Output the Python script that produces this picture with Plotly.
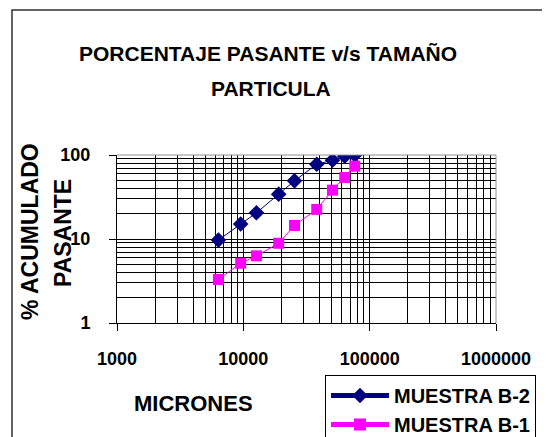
import plotly.graph_objects as go

# ---- data ----
micrones = [6350, 9525, 12700, 19050, 25400, 38100, 50800, 63500, 76200]
muestra_b2 = [9.7, 15.1, 20.5, 34.2, 49.2, 77.6, 86.5, 96.5, 100]
muestra_b1 = [3.3, 5.15, 6.3, 8.9, 14.5, 22.5, 38.1, 53.9, 73.5]
x_major = [1000, 10000, 100000, 1000000]
x_major_text = ["1000", "10000", "100000", "1000000"]
y_major = [1, 10, 100]
y_major_text = ["1", "10", "100"]
x_minor = [m * d for d in [1000, 10000, 100000] for m in range(2, 10)]
y_minor = [m * d for d in [1, 10] for m in range(2, 10)]

# page body has an 8px margin, so the figure is drawn 8px smaller and
# all reference (window) pixel positions are shifted by that offset
OFF = 8
W, H = 550 - OFF, 437 - OFF
L, R, T, B = 117 - OFF, 54, 155 - OFF, 114
PW, PH = W - L - R, H - T - B


def px(x):
    return (x - OFF - L) / PW


def py(y):
    return (H - B - (y - OFF)) / PH


FONT = "Liberation Sans, Arial, sans-serif"

fig = go.Figure()
fig.add_trace(go.Scatter(
    x=micrones, y=muestra_b2, name="MUESTRA B-2", mode="lines+markers",
    line=dict(color="#000080", width=1),
    marker=dict(symbol="diamond", size=12, color="#000080"),
))
fig.add_trace(go.Scatter(
    x=micrones, y=muestra_b1, name="MUESTRA B-1", mode="lines+markers",
    line=dict(color="#FF00FF", width=1),
    marker=dict(symbol="square", size=11, color="#FF00FF"),
))

axis_common = dict(
    showgrid=True, gridcolor="black", gridwidth=1,
    showline=True, linecolor="black", linewidth=1,
    ticks="outside", tickcolor="black", ticklen=7,
    zeroline=False,
    tickfont=dict(family=FONT, size=18, color="black", weight="bold"),
)

fig.update_xaxes(
    type="log", range=[3, 6], tickmode="array",
    tickvals=x_major, ticktext=x_major_text,
    minor=dict(tickmode="array", tickvals=x_minor, showgrid=True,
               gridcolor="black", gridwidth=1, ticks=""),
    ticklabelstandoff=12,
    **axis_common,
)
fig.update_yaxes(
    type="log", range=[0, 2], tickmode="array",
    tickvals=y_major, ticktext=y_major_text,
    minor=dict(tickmode="array", tickvals=y_minor, showgrid=True,
               gridcolor="black", gridwidth=1, ticks=""),
    ticklabelstandoff=15,
    **axis_common,
)

title_font = dict(family=FONT, size=21, color="black", weight="bold")
axis_font = dict(family=FONT, size=22, color="black", weight="bold")
ytitle_font = dict(family=FONT, size=23, color="black", weight="bold")
annotations = [
    dict(text="PORCENTAJE PASANTE v/s TAMAÑO", x=px(268), y=py(54), font=title_font),
    dict(text="PARTICULA", x=px(271), y=py(88), font=title_font),
    dict(text="% ACUMULADO", x=px(30), y=py(232), textangle=-90, font=ytitle_font),
    dict(text="PASANTE", x=px(63), y=py(233), textangle=-90, font=ytitle_font),
    dict(text="MICRONES", x=px(193), y=py(403), font=axis_font),
]
for a in annotations:
    a.update(xref="paper", yref="paper", showarrow=False,
             xanchor="center", yanchor="middle")

shapes = [
    # outer chart border
    dict(type="rect", xref="paper", yref="paper",
         x0=px(12), y0=py(10), x1=px(600), y1=py(480),
         line=dict(color="#303030", width=1.5), layer="below"),
    # plot area top and right border (grey)
    dict(type="line", xref="paper", yref="paper", x0=0, y0=1, x1=1, y1=1,
         line=dict(color="#909090", width=1), layer="above"),
    dict(type="line", xref="paper", yref="paper", x0=1, y0=0, x1=1, y1=1,
         line=dict(color="#909090", width=1), layer="above"),
]

fig.update_layout(
    width=W, height=H,
    margin=dict(l=L, r=R, t=T, b=B, autoexpand=False),
    paper_bgcolor="white", plot_bgcolor="white",
    annotations=annotations, shapes=shapes,
    showlegend=True,
    legend=dict(
        x=px(325), y=py(375), xanchor="left", yanchor="top",
        bgcolor="white", bordercolor="black", borderwidth=1,
        font=dict(family=FONT, size=20, color="black", weight="bold"),
        tracegroupgap=0, itemsizing="constant", itemwidth=58,
    ),
)

fig.write_html("out.html")
